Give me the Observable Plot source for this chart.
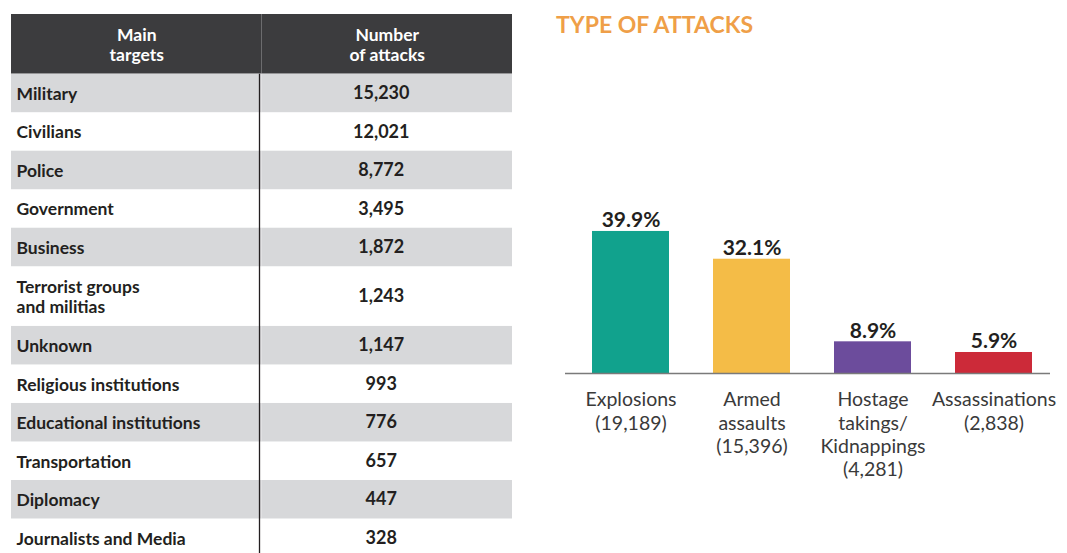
<!DOCTYPE html>
<html><head><meta charset="utf-8">
<script src="https://cdn.jsdelivr.net/npm/d3@7"></script>
<script src="https://cdn.jsdelivr.net/npm/@observablehq/plot@0.6"></script>
<style>
body{margin:0;background:#fff;font-family:Lato,sans-serif;}
#wrap{position:relative;width:1067px;height:553px;overflow:hidden;background:#fff;}
#table{position:absolute;left:0;top:0;}
#chart{position:absolute;left:515px;top:0;}
#title{position:absolute;left:556px;top:10px;font-family:Lato,sans-serif;font-weight:700;font-size:23px;color:#ef9f48;white-space:nowrap;}
</style></head><body>
<div id="wrap"><div id="table"></div><div id="title">TYPE OF ATTACKS</div><div id="chart"></div></div>
<script>
// ---- Table data ----
const headers = ["Main\ntargets", "Number\nof attacks"];
const targets = ["Military", "Civilians", "Police", "Government", "Business", "Terrorist groups\nand militias", "Unknown", "Religious institutions", "Educational institutions", "Transportation", "Diplomacy", "Journalists and Media"];
const attacks = [15230, 12021, 8772, 3495, 1872, 1243, 1147, 993, 776, 657, 447, 328];

// ---- Bar chart data ----
const attackTypes = ["Explosions", "Armed\nassaults", "Hostage\ntakings/\nKidnappings", "Assassinations"];
const attackCounts = [19189, 15396, 4281, 2838];
const attackShares = [39.9, 32.1, 8.9, 5.9];
const attackColors = ["#11a28d", "#f4bc47", "#6c4c9c", "#cc2a39"];

const fmt = d3.format(",");

// Build table layout (row heights in "line units")
const tallUnit = 1.55;
const headerH = tallUnit;
let acc = headerH;
const rows = targets.map((t, i) => {
  const h = t.includes("\n") ? tallUnit : 1;
  const r = {target: t, count: attacks[i], y1: acc, y2: acc + h, ym: acc + h / 2, stripe: i % 2 === 0};
  acc += h;
  return r;
});
const total = acc;
const stripeCells = rows.filter(d => d.stripe).flatMap(d => [0, 1].map(c => ({...d, col: c})));
const headerCells = headers.map((h, i) => ({text: h, col: i}));

const table = Plot.plot({
  width: 520, height: 553, margin: 0,
  style: {fontFamily: "Lato, sans-serif", background: "transparent"},
  x: {domain: [0, 2], range: [11, 512], axis: null},
  y: {domain: [0, total], range: [14, 557], axis: null},
  marks: [
    Plot.rect(headerCells, {x1: "col", x2: d => d.col + 1, y1: 0, y2: headerH, fill: "#3c3c3e"}),
    Plot.rect(stripeCells, {x1: "col", x2: d => d.col + 1, y1: "y1", y2: "y2", fill: "#d7d8da"}),
    Plot.ruleX([1], {y1: headerH, y2: total, dx: -2.5, stroke: "#231f20", strokeWidth: 1.3}),
    Plot.text(headerCells, {x: d => d.col + 0.5, y: headerH / 2, text: "text", fill: "#fff", fontWeight: 700, fontSize: 17.5, lineHeight: 1.17}),
    Plot.text(rows, {x: 0, y: "ym", text: "target", textAnchor: "start", dx: 5, fill: "#231f20", fontWeight: 700, fontSize: 17.5, lineHeight: 1.15}),
    Plot.text(rows, {x: 1.5, y: "ym", text: d => fmt(d.count), dx: -6, fill: "#231f20", fontWeight: 700, fontSize: 18})
  ]
});
document.getElementById("table").appendChild(table);

const bars = attackTypes.map((t, i) => ({
  type: t, count: attackCounts[i], share: attackShares[i],
  label: t + "\n(" + fmt(attackCounts[i]) + ")"
}));

const chart = Plot.plot({
  width: 552, height: 553,
  marginLeft: 50, marginRight: 17, marginTop: 17, marginBottom: 180,
  style: {fontFamily: "Lato, sans-serif", background: "transparent"},
  x: {domain: attackTypes, range: [75, 519], paddingInner: 0.36, paddingOuter: 0, axis: null},
  y: {domain: [0, 100], axis: null},
  color: {domain: attackTypes, range: attackColors},
  marks: [
    Plot.barY(bars, {x: "type", y: "share", fill: "type", inset: 0}),
    Plot.ruleY([0], {stroke: "#7a7a7a", strokeWidth: 1.5}),
    Plot.text(bars, {x: "type", y: "share", text: d => d.share.toFixed(1) + "%", lineAnchor: "bottom", dy: -4, fontSize: 21, fontWeight: 700, fill: "#231f20"}),
    Plot.text(bars, {x: "type", y: 0, text: "label", lineAnchor: "top", dy: 16, fontSize: 19.5, lineHeight: 1.2, fill: "#3a3a3a"})
  ]
});
document.getElementById("chart").appendChild(chart);
</script>
</body></html>
